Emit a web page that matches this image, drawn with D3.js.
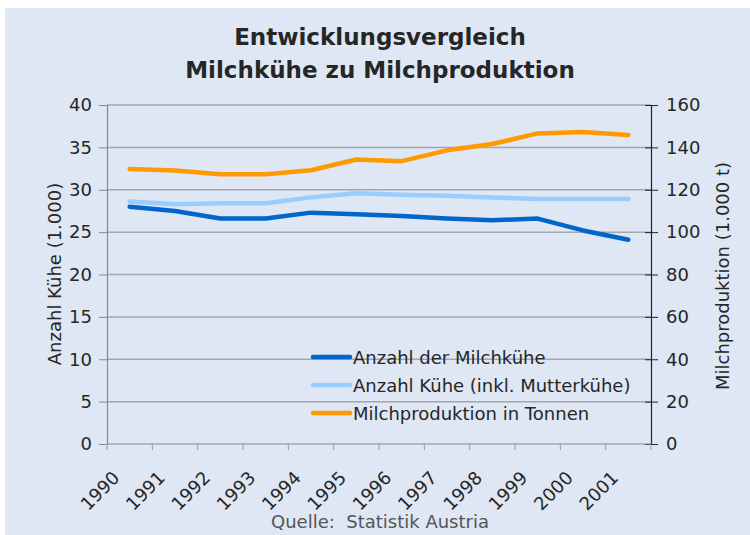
<!DOCTYPE html>
<html>
<head>
<meta charset="utf-8">
<script src="https://cdn.jsdelivr.net/npm/d3@7"></script>
<style>
  html, body { margin: 0; padding: 0; background: #fff; }
  svg { display: block; font-family: "DejaVu Sans", Verdana, sans-serif; }
</style>
</head>
<body>
<svg id="chart" width="750" height="535"></svg>
<script>
// data
var years = ['1990', '1991', '1992', '1993', '1994', '1995', '1996', '1997', '1998', '1999', '2000', '2001'];
var milchkuehe = [28.0, 27.5, 26.6, 26.6, 27.3, 27.1, 26.9, 26.6, 26.4, 26.6, 25.2, 24.1];
var kueheGesamt = [28.6, 28.3, 28.4, 28.4, 29.1, 29.6, 29.4, 29.3, 29.1, 28.9, 28.9, 28.9];
var milchproduktion = [129.8, 129.1, 127.3, 127.3, 129.2, 134.3, 133.5, 138.6, 141.6, 146.6, 147.2, 145.8];
var leftTicks = [0, 5, 10, 15, 20, 25, 30, 35, 40];
var rightTicks = [0, 20, 40, 60, 80, 100, 120, 140, 160];

var series = [
  { name: 'Anzahl der Milchkühe', values: milchkuehe, axis: 'left', color: '#0066cc' },
  { name: 'Anzahl Kühe (inkl. Mutterkühe)', values: kueheGesamt, axis: 'left', color: '#99ccff' },
  { name: 'Milchproduktion in Tonnen', values: milchproduktion, axis: 'right', color: '#ff9900' }
];

var svg = d3.select('#chart');

// light blue panel with a thin white frame top/left
svg.append('rect').attr('x', 5).attr('y', 8).attr('width', 745).attr('height', 527)
  .attr('fill', '#dee7f3');

var plot = { left: 107, right: 651, top: 105, bottom: 444 };

var x = d3.scaleBand().domain(years).range([plot.left, plot.right]);
var yL = d3.scaleLinear().domain([0, 40]).range([plot.bottom, plot.top]);
var yR = d3.scaleLinear().domain([0, 160]).range([plot.bottom, plot.top]);

// title
var title = svg.append('text').attr('text-anchor', 'middle')
  .attr('font-size', 23).attr('font-weight', 'bold').attr('fill', '#262626');
title.append('tspan').attr('x', 380).attr('y', 45).text('Entwicklungsvergleich');
title.append('tspan').attr('x', 380).attr('y', 78).text('Milchkühe zu Milchproduktion');

// gridlines
svg.append('g').selectAll('line').data(leftTicks.slice(1)).enter().append('line')
  .attr('x1', plot.left).attr('x2', plot.right)
  .attr('y1', function(d) { return yL(d); }).attr('y2', function(d) { return yL(d); })
  .attr('stroke', '#a3a6ab').attr('stroke-width', 1.5);

// left axis
var gL = svg.append('g').attr('transform', 'translate(' + plot.left + ',0)')
  .call(d3.axisLeft(yL).tickValues(leftTicks).tickSize(8).tickPadding(7));
gL.select('.domain').attr('stroke', '#888').attr('stroke-width', 1.2);
gL.selectAll('.tick line').attr('stroke', '#888');
gL.selectAll('.tick text').attr('font-size', 18).attr('fill', '#262626')
  .attr('font-family', '"DejaVu Sans", sans-serif');

// right axis (ticks cross the line)
var gR = svg.append('g').attr('transform', 'translate(' + plot.right + ',0)')
  .call(d3.axisRight(yR).tickValues(rightTicks).tickSize(7).tickPadding(8));
gR.select('.domain').attr('stroke', '#222').attr('stroke-width', 1.2);
gR.selectAll('.tick line').attr('stroke', '#222').attr('x1', -6);
gR.selectAll('.tick text').attr('font-size', 18).attr('fill', '#262626')
  .attr('font-family', '"DejaVu Sans", sans-serif');

// bottom axis: ticks on category boundaries
var boundaries = years.map(function(d) { return x(d); }).concat([plot.right]);
var gB = svg.append('g');
gB.append('line').attr('x1', plot.left).attr('x2', plot.right)
  .attr('y1', plot.bottom).attr('y2', plot.bottom).attr('stroke', '#888').attr('stroke-width', 1.2);
gB.selectAll('line.tk').data(boundaries).enter().append('line').attr('class', 'tk')
  .attr('x1', function(d) { return d; }).attr('x2', function(d) { return d; })
  .attr('y1', plot.bottom).attr('y2', plot.bottom + 6).attr('stroke', '#999');
gB.selectAll('text').data(years).enter().append('text')
  .attr('text-anchor', 'end').attr('font-size', 18).attr('fill', '#262626')
  .attr('transform', function(d) {
    return 'translate(' + (x(d) + x.bandwidth() / 2 - 9) + ',' + (plot.bottom + 35) + ') rotate(-45)';
  })
  .text(function(d) { return d; });

// axis titles
svg.append('text').attr('text-anchor', 'middle').attr('font-size', 18).attr('fill', '#262626')
  .attr('transform', 'translate(61,274) rotate(-90)').text('Anzahl Kühe (1.000)');
svg.append('text').attr('text-anchor', 'middle').attr('font-size', 18).attr('fill', '#262626')
  .attr('transform', 'translate(729,276) rotate(-90)').text('Milchproduktion (1.000 t)');

// lines
var line = d3.line()
  .x(function(d, i) { return x(years[i]) + x.bandwidth() / 2; });

series.forEach(function(s) {
  var sc = s.axis === 'left' ? yL : yR;
  svg.append('path').datum(s.values)
    .attr('d', line.y(function(d) { return sc(d); }))
    .attr('fill', 'none').attr('stroke', s.color).attr('stroke-width', 4.5)
    .attr('stroke-linejoin', 'round').attr('stroke-linecap', 'round');
});

// legend (transparent, gridlines show through)
var legend = svg.append('g').attr('transform', 'translate(313,357)');
var items = legend.selectAll('g').data(series).enter().append('g')
  .attr('transform', function(d, i) { return 'translate(0,' + (i * 28) + ')'; });
items.append('line').attr('x1', 0).attr('x2', 37).attr('y1', 0).attr('y2', 0)
  .attr('stroke', function(d) { return d.color; }).attr('stroke-width', 4.5)
  .attr('stroke-linecap', 'round');
items.append('text').attr('x', 40).attr('y', 6.5).attr('font-size', 18).attr('fill', '#262626')
  .text(function(d) { return d.name; });

// source
svg.append('text').attr('x', 380).attr('y', 528).attr('text-anchor', 'middle')
  .attr('font-size', 18).attr('fill', '#555').attr('xml:space', 'preserve')
  .text('Quelle:  Statistik Austria');
</script>
</body>
</html>
